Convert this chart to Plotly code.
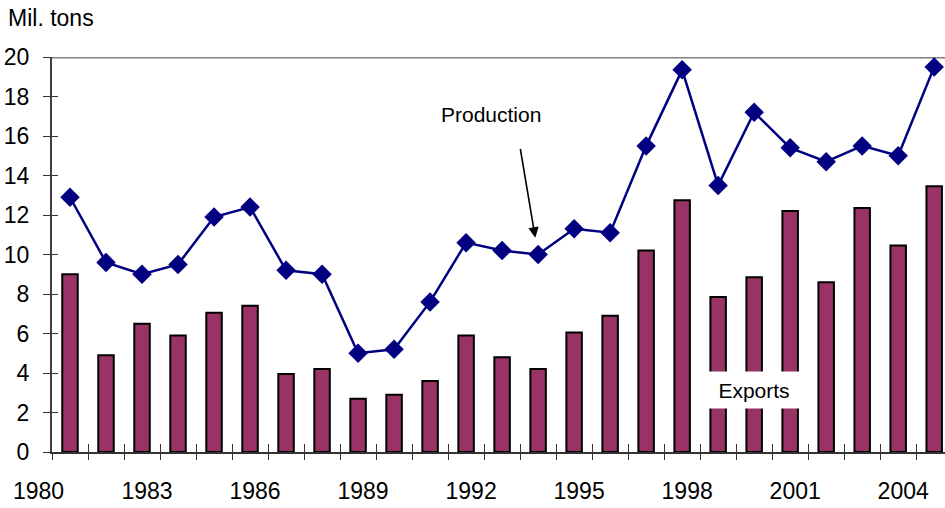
import plotly.graph_objects as go

years = list(range(1981, 2006))
exports = [9.0, 4.9, 6.5, 5.9, 7.05, 7.4, 3.95, 4.2, 2.7, 2.9, 3.6, 5.9, 4.8, 4.2,
           6.05, 6.9, 10.2, 12.75, 7.85, 8.85, 12.2, 8.6, 12.35, 10.45, 13.45]
production = [12.9, 9.6, 9.0, 9.5, 11.9, 12.4, 9.2, 9.0, 5.0, 5.2, 7.6, 10.6, 10.2, 10.0,
              11.3, 11.1, 15.5, 19.35, 13.5, 17.2, 15.4, 14.7, 15.5, 15.0, 19.5]
label_years = [1983, 1986, 1989, 1992, 1995, 1998, 2001, 2004]
first_label = "1980"
y_ticks = list(range(0, 21, 2))
boundaries = [y + 0.5 for y in range(1980, 2006)]

FONT = "Liberation Sans, Arial, sans-serif"
BAR_COLOR = "#993366"
LINE_COLOR = "#000080"
AXIS_COLOR = "#333333"

fig = go.Figure()
fig.add_trace(go.Bar(
    x=years, y=exports, name="Exports", width=0.43,
    marker=dict(color=BAR_COLOR, line=dict(color="black", width=2)),
    xaxis="x", yaxis="y",
))
fig.add_trace(go.Scatter(
    x=years, y=production, name="Production", mode="lines+markers",
    line=dict(color=LINE_COLOR, width=2.5),
    marker=dict(symbol="diamond", size=15, color=LINE_COLOR),
    xaxis="x2", yaxis="y2", cliponaxis=False,
))

xr = [1980.5, 2005.3]
fig.update_layout(
    width=945, height=508,
    margin=dict(l=52, r=0, t=57, b=56, autoexpand=False),
    paper_bgcolor="white", plot_bgcolor="white",
    showlegend=False,
    font=dict(family=FONT, size=23, color="black"),
    xaxis=dict(
        range=xr, tickmode="array", tickvals=label_years,
        ticktext=[str(v) for v in label_years],
        ticks="", showgrid=False, zeroline=False, automargin=False,
        showline=True, linecolor=AXIS_COLOR, linewidth=1.5,
        ticklabelstandoff=18, ticklabelshift=5,
        minor=dict(tickmode="array", tickvals=boundaries, ticks="outside",
                   ticklen=6, tickwidth=1.3, tickcolor=AXIS_COLOR, showgrid=False),
    ),
    xaxis2=dict(
        range=xr, overlaying="x", anchor="y", tickmode="array", tickvals=boundaries,
        ticks="inside", ticklen=8, tickwidth=1.3, tickcolor=AXIS_COLOR, automargin=False,
        showticklabels=False, showgrid=False, zeroline=False, showline=False,
    ),
    yaxis=dict(
        range=[0, 20], tickmode="array", tickvals=y_ticks,
        ticks="outside", ticklen=7, tickwidth=1.3, tickcolor=AXIS_COLOR,
        showgrid=False, zeroline=False, showline=True, automargin=False,
        linecolor="#404040", linewidth=2.2, ticklabelstandoff=9,
    ),
    yaxis2=dict(
        range=[0, 20], overlaying="y", anchor="x", tickmode="array", tickvals=y_ticks,
        ticks="inside", ticklen=6, tickwidth=1.3, tickcolor=AXIS_COLOR, automargin=False,
        showticklabels=False, showgrid=False, zeroline=False, showline=False,
    ),
    shapes=[dict(type="line", xref="paper", x0=0, x1=1, yref="y", y0=20, y1=20,
                 line=dict(color="#808080", width=2.8), layer="below")],
    annotations=[
        dict(text="Mil. tons", xref="paper", yref="paper", x=0, y=1,
             xanchor="left", yanchor="middle", xshift=-46, yshift=39,
             showarrow=False, font=dict(size=23)),
        dict(text=first_label, xref="paper", yref="paper", x=0, y=0,
             xanchor="center", yanchor="middle", xshift=-14, yshift=-39,
             showarrow=False, font=dict(size=23)),
        dict(text="", x=1994, y=production[years.index(1994)], xref="x", yref="y",
             showarrow=True, ax=-18, ay=-107, axref="pixel", ayref="pixel",
             arrowhead=2, arrowsize=1.3, arrowwidth=1.6, arrowcolor="black", standoff=17),
        dict(text="Production", x=1992.7, y=17.1, xref="x", yref="y",
             showarrow=False, font=dict(size=21)),
        dict(text="Exports", x=2000, y=3.13, xref="x", yref="y",
             showarrow=False, font=dict(size=21), bgcolor="white",
             width=90, height=34),
    ],
)

fig.write_html("out.html", config={"displayModeBar": False},
               post_script="document.body.style.margin='0px';document.body.style.overflow='hidden';")
